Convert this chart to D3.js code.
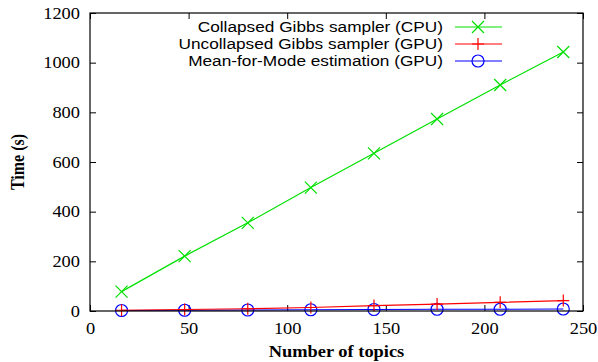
<!DOCTYPE html>
<html>
<head>
<meta charset="utf-8">
<script src="https://cdn.jsdelivr.net/npm/d3@7"></script>
<style>
  body { margin: 0; background: #fff; }
  svg { display: block; }
</style>
</head>
<body>
<svg width="598" height="362"></svg>
<script>
// number of topics on the x axis
const topics = [16, 48, 80, 112, 144, 176, 208, 240];

// time in seconds
const collapsedCPU = [78, 221, 355, 497, 635, 773, 910, 1043];
const uncollapsedGPU = [3, 6, 9, 14, 22, 28, 35, 42];
const meanForModeGPU = [2, 3, 4, 5, 6, 7, 7, 8];

const xTicks = [0, 50, 100, 150, 200, 250];
const yTicks = [0, 200, 400, 600, 800, 1000, 1200];

const series = [
  { name: 'Collapsed Gibbs sampler (CPU)', values: collapsedCPU, color: '#00e000', marker: 'x' },
  { name: 'Uncollapsed Gibbs sampler (GPU)', values: uncollapsedGPU, color: '#ff0000', marker: 'plus' },
  { name: 'Mean-for-Mode estimation (GPU)', values: meanForModeGPU, color: '#0000ff', marker: 'circle' },
];

const svg = d3.select('svg');
const margin = { top: 13, right: 15, bottom: 51, left: 90 };
const width = +svg.attr('width') - margin.left - margin.right;
const height = +svg.attr('height') - margin.top - margin.bottom;

const chart = svg.append('g')
  .attr('transform', `translate(${margin.left}, ${margin.top})`);

const x = d3.scaleLinear().domain([0, 250]).range([0, width]);
const y = d3.scaleLinear().domain([0, 1200]).range([height, 0]);

const serif = 'Liberation Serif, Times New Roman, serif';
const sans = 'Liberation Sans, Arial, sans-serif';
// the original output is stretched a bit wider than tall
const stretch = 1.15;

const styleAxis = (g) => {
  g.attr('font-family', serif).attr('font-size', 16);
  g.select('.domain').remove();
  g.selectAll('line').attr('stroke', '#000');
  g.selectAll('text').attr('fill', '#000');
};

// bottom axis, ticks point inward
const xAxis = chart.append('g')
  .attr('transform', `translate(0, ${height})`)
  .call(d3.axisBottom(x).tickValues(xTicks).tickFormat(d3.format('d'))
    .tickSizeInner(-6).tickSizeOuter(0).tickPadding(12))
  .call(styleAxis);
xAxis.selectAll('text').attr('transform', `scale(${stretch},1)`);

chart.append('g')
  .call(d3.axisTop(x).tickValues(xTicks).tickSizeInner(-6).tickSizeOuter(0).tickFormat(''))
  .call(styleAxis);

// left axis, labels right aligned 10px off the frame
const yAxis = chart.append('g')
  .call(d3.axisLeft(y).tickValues(yTicks).tickFormat(d3.format('d'))
    .tickSizeInner(-6).tickSizeOuter(0).tickPadding(10))
  .call(styleAxis);
yAxis.selectAll('text')
  .attr('x', -10 / stretch)
  .attr('transform', `scale(${stretch},1)`);

chart.append('g')
  .attr('transform', `translate(${width}, 0)`)
  .call(d3.axisRight(y).tickValues(yTicks).tickSizeInner(-6).tickSizeOuter(0).tickFormat(''))
  .call(styleAxis);

// axis titles
svg.append('text')
  .attr('transform', `translate(${margin.left + width / 2}, 357) scale(${stretch},1)`)
  .attr('text-anchor', 'middle')
  .attr('font-family', serif)
  .attr('font-weight', 'bold')
  .attr('font-size', 16)
  .text('Number of topics');

svg.append('text')
  .attr('transform', `translate(24, ${margin.top + height / 2}) rotate(-90) scale(1,${stretch})`)
  .attr('text-anchor', 'middle')
  .attr('font-family', serif)
  .attr('font-weight', 'bold')
  .attr('font-size', 16)
  .text('Time (s)');

const drawMarker = (sel, type, color) => {
  const r = 6;
  if (type === 'x') {
    sel.append('path').attr('d', `M${-r},${-r}L${r},${r}M${-r},${r}L${r},${-r}`)
      .attr('stroke', color).attr('fill', 'none');
  } else if (type === 'plus') {
    sel.append('path').attr('d', `M${-r},0L${r},0M0,${-r}L0,${r}`)
      .attr('stroke', color).attr('fill', 'none');
  } else {
    sel.append('circle').attr('r', r).attr('stroke', color).attr('fill', 'none');
  }
};

const line = d3.line()
  .x((d, i) => x(topics[i]))
  .y(d => y(d));

// draw in reverse so the CPU line ends up on top
series.slice().reverse().forEach((s) => {
  chart.append('path')
    .datum(s.values)
    .attr('d', line)
    .attr('fill', 'none')
    .attr('stroke', s.color)
    .attr('stroke-width', 1.2);

  s.values.forEach((v, i) => {
    const m = chart.append('g')
      .attr('transform', `translate(${x(topics[i])}, ${y(v)})`)
      .attr('stroke-width', 1.2);
    drawMarker(m, s.marker, s.color);
  });
});

// frame
chart.append('rect')
  .attr('width', width)
  .attr('height', height)
  .attr('fill', 'none')
  .attr('stroke', '#000')
  .attr('stroke-width', 1.2);

// legend, right aligned text with a line sample to its right
const legend = svg.append('g');
series.forEach((s, i) => {
  const ly = 27 + i * 17;
  legend.append('text')
    .attr('transform', `translate(443, ${ly}) scale(${stretch},1)`)
    .attr('dy', '0.35em')
    .attr('text-anchor', 'end')
    .attr('font-family', sans)
    .attr('font-size', 15)
    .text(s.name);
  legend.append('line')
    .attr('x1', 455).attr('x2', 502)
    .attr('y1', ly).attr('y2', ly)
    .attr('stroke', s.color)
    .attr('stroke-width', 1.2);
  const m = legend.append('g')
    .attr('transform', `translate(478, ${ly})`)
    .attr('stroke-width', 1.2);
  drawMarker(m, s.marker, s.color);
});
</script>
</body>
</html>
